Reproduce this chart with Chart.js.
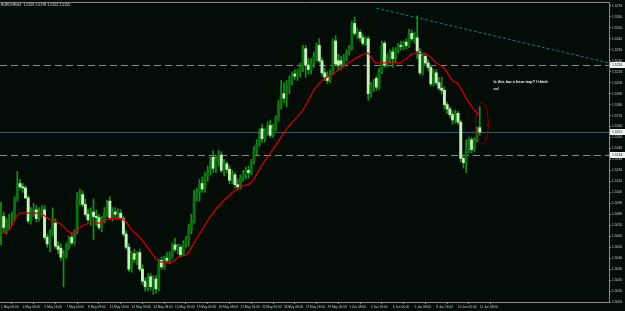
<!DOCTYPE html>
<html>
<head>
<meta charset="utf-8">
<script src="https://cdn.jsdelivr.net/npm/chart.js@4.4.0/dist/chart.umd.min.js"></script>
<style>
  html, body { margin: 0; padding: 0; background: #040c08; }
  #wrap { width: 625px; height: 311px; }
</style>
</head>
<body>
<div id="wrap"><canvas id="mt4Chart" width="625" height="311"></canvas></div>
<script>
const symbol = 'EURCHF,H4';

// H4 candles, 1 May 00:00 .. 11 Jun 08:00
const opens = [
  1.5062,1.5078,1.5068,1.5072,1.5074,1.5076,1.5094,1.5108,1.5105,1.5104,
  1.5095,1.5074,1.5082,1.5084,1.5076,1.5082,1.5084,1.5059,1.5053,1.5064,
  1.5072,1.5051,1.5049,1.5041,1.5044,1.5051,1.5059,1.5054,1.5064,1.5095,
  1.5098,1.5089,1.5080,1.5075,1.5082,1.5078,1.5077,1.5068,1.5074,1.5082,
  1.5092,1.5077,1.5082,1.5080,1.5081,1.5076,1.5062,1.5050,1.5030,1.5044,
  1.5039,1.5045,1.5030,1.5019,1.5014,1.5023,1.5014,1.5021,1.5012,1.5038,
  1.5032,1.5040,1.5038,1.5042,1.5052,1.5048,1.5050,1.5043,1.5054,1.5057,
  1.5066,1.5074,1.5096,1.5100,1.5108,1.5103,1.5115,1.5120,1.5132,1.5122,
  1.5130,1.5134,1.5120,1.5126,1.5121,1.5111,1.5116,1.5107,1.5105,1.5113,
  1.5116,1.5120,1.5118,1.5128,1.5138,1.5144,1.5158,1.5149,1.5156,1.5161,
  1.5152,1.5158,1.5168,1.5180,1.5190,1.5186,1.5198,1.5202,1.5208,1.5206,
  1.5209,1.5214,1.5231,1.5216,1.5212,1.5218,1.5224,1.5234,1.5220,1.5209,
  1.5205,1.5202,1.5209,1.5238,1.5220,1.5220,1.5217,1.5223,1.5228,1.5232,
  1.5254,1.5245,1.5246,1.5241,1.5236,1.5240,1.5190,1.5198,1.5204,1.5196,
  1.5210,1.5236,1.5216,1.5222,1.5228,1.5222,1.5230,1.5234,1.5233,1.5237,
  1.5234,1.5245,1.5240,1.5241,1.5228,1.5209,1.5224,1.5218,1.5214,1.5199,
  1.5209,1.5200,1.5195,1.5193,1.5180,1.5176,1.5171,1.5166,1.5172,1.5164,
  1.5131,1.5127,1.5140,1.5148,1.5139,1.5148,1.5159
];
const highs = [
  1.5091,1.5082,1.5076,1.5080,1.5082,1.5096,1.5119,1.5112,1.5108,1.5106,
  1.5097,1.5086,1.5090,1.5088,1.5086,1.5088,1.5088,1.5062,1.5066,1.5086,
  1.5076,1.5055,1.5053,1.5047,1.5054,1.5060,1.5062,1.5066,1.5100,1.5103,
  1.5101,1.5094,1.5085,1.5086,1.5094,1.5084,1.5080,1.5078,1.5086,1.5093,
  1.5096,1.5086,1.5086,1.5085,1.5084,1.5078,1.5065,1.5053,1.5046,1.5048,
  1.5046,1.5048,1.5034,1.5022,1.5026,1.5026,1.5024,1.5024,1.5039,1.5041,
  1.5042,1.5045,1.5046,1.5054,1.5058,1.5053,1.5052,1.5056,1.5060,1.5071,
  1.5080,1.5102,1.5104,1.5112,1.5114,1.5118,1.5124,1.5132,1.5138,1.5134,
  1.5138,1.5137,1.5130,1.5128,1.5124,1.5120,1.5118,1.5112,1.5116,1.5120,
  1.5123,1.5124,1.5130,1.5142,1.5148,1.5158,1.5162,1.5158,1.5164,1.5166,
  1.5162,1.5170,1.5184,1.5202,1.5200,1.5202,1.5206,1.5210,1.5212,1.5212,
  1.5218,1.5234,1.5234,1.5222,1.5222,1.5228,1.5236,1.5240,1.5223,1.5213,
  1.5210,1.5212,1.5240,1.5243,1.5226,1.5224,1.5226,1.5230,1.5234,1.5256,
  1.5260,1.5250,1.5248,1.5244,1.5242,1.5242,1.5200,1.5203,1.5206,1.5213,
  1.5238,1.5238,1.5226,1.5230,1.5232,1.5232,1.5236,1.5238,1.5238,1.5240,
  1.5249,1.5248,1.5246,1.5261,1.5231,1.5227,1.5227,1.5221,1.5216,1.5212,
  1.5212,1.5205,1.5205,1.5196,1.5182,1.5178,1.5174,1.5175,1.5174,1.5166,
  1.5134,1.5148,1.5150,1.5150,1.5150,1.5160,1.5178
];
const lows = [
  1.5052,1.5064,1.5062,1.5066,1.5070,1.5074,1.5092,1.5103,1.5100,1.5094,
  1.5072,1.5071,1.5078,1.5073,1.5074,1.5078,1.5057,1.5050,1.5046,1.5060,
  1.5049,1.5044,1.5038,1.5014,1.5040,1.5048,1.5052,1.5052,1.5062,1.5088,
  1.5087,1.5078,1.5073,1.5070,1.5057,1.5070,1.5066,1.5064,1.5072,1.5078,
  1.5075,1.5074,1.5077,1.5076,1.5075,1.5060,1.5048,1.5028,1.5027,1.5036,
  1.5034,1.5028,1.5016,1.5010,1.5010,1.5011,1.5007,1.5008,1.5010,1.5030,
  1.5030,1.5036,1.5035,1.5040,1.5046,1.5044,1.5041,1.5042,1.5050,1.5051,
  1.5062,1.5072,1.5092,1.5092,1.5100,1.5100,1.5110,1.5116,1.5118,1.5118,
  1.5124,1.5118,1.5115,1.5118,1.5108,1.5108,1.5104,1.5102,1.5103,1.5110,
  1.5112,1.5113,1.5116,1.5126,1.5134,1.5142,1.5146,1.5146,1.5152,1.5150,
  1.5150,1.5156,1.5165,1.5176,1.5182,1.5178,1.5190,1.5198,1.5203,1.5202,
  1.5205,1.5210,1.5205,1.5208,1.5208,1.5214,1.5220,1.5218,1.5206,1.5202,
  1.5199,1.5200,1.5207,1.5215,1.5212,1.5212,1.5214,1.5220,1.5225,1.5230,
  1.5243,1.5240,1.5238,1.5234,1.5234,1.5184,1.5187,1.5192,1.5193,1.5194,
  1.5208,1.5214,1.5214,1.5218,1.5214,1.5219,1.5227,1.5230,1.5230,1.5231,
  1.5232,1.5238,1.5236,1.5222,1.5207,1.5207,1.5216,1.5211,1.5197,1.5197,
  1.5198,1.5193,1.5190,1.5176,1.5172,1.5168,1.5162,1.5163,1.5162,1.5128,
  1.5122,1.5118,1.5136,1.5136,1.5137,1.5146,1.5152
];
const closes = [
  1.5080,1.5068,1.5072,1.5074,1.5076,1.5094,1.5108,1.5105,1.5104,1.5095,
  1.5074,1.5082,1.5084,1.5076,1.5082,1.5084,1.5059,1.5053,1.5064,1.5074,
  1.5051,1.5048,1.5041,1.5044,1.5051,1.5057,1.5054,1.5064,1.5095,1.5098,
  1.5089,1.5080,1.5075,1.5082,1.5078,1.5077,1.5068,1.5074,1.5082,1.5088,
  1.5077,1.5082,1.5080,1.5081,1.5077,1.5062,1.5050,1.5030,1.5044,1.5039,
  1.5042,1.5030,1.5019,1.5014,1.5023,1.5014,1.5020,1.5012,1.5034,1.5032,
  1.5040,1.5038,1.5042,1.5052,1.5048,1.5050,1.5043,1.5054,1.5057,1.5066,
  1.5074,1.5096,1.5100,1.5108,1.5103,1.5115,1.5120,1.5128,1.5122,1.5130,
  1.5133,1.5120,1.5126,1.5121,1.5111,1.5116,1.5107,1.5105,1.5113,1.5116,
  1.5120,1.5118,1.5128,1.5138,1.5144,1.5154,1.5149,1.5156,1.5160,1.5152,
  1.5158,1.5168,1.5180,1.5190,1.5186,1.5198,1.5202,1.5208,1.5206,1.5209,
  1.5214,1.5230,1.5216,1.5212,1.5218,1.5224,1.5233,1.5220,1.5209,1.5205,
  1.5202,1.5209,1.5238,1.5217,1.5216,1.5217,1.5223,1.5228,1.5232,1.5254,
  1.5245,1.5246,1.5241,1.5236,1.5240,1.5190,1.5198,1.5200,1.5196,1.5210,
  1.5234,1.5216,1.5222,1.5228,1.5222,1.5230,1.5234,1.5233,1.5236,1.5234,
  1.5244,1.5240,1.5241,1.5229,1.5209,1.5224,1.5218,1.5214,1.5199,1.5209,
  1.5200,1.5195,1.5193,1.5180,1.5176,1.5171,1.5166,1.5172,1.5164,1.5131,
  1.5127,1.5140,1.5147,1.5139,1.5148,1.5156,1.5155
];

// red moving average, read at some bars
const maBars = [0,3,7,11,14,18,22,25,27,29,33,36,40,44,46,48,51,55,58,62,66,68,71,73,
  77,82,88,92,96,101,106,111,115,118,122,127,131,135,136,138,141,146,148,151,153,
  157,160,163,166,168,170,172,174,175,176];
const maValues = [1.5062,1.5066,1.5081,1.5081,1.5081,1.5075,1.5071,1.5064,1.5063,1.5068,
  1.5072,1.5072,1.5076,1.5076,1.5073,1.5066,1.5059,1.5046,1.5037,1.5036,1.5042,1.5043,
  1.5054,1.5062,1.5078,1.5093,1.5105,1.5109,1.5125,1.5143,1.5161,1.5175,1.5193,1.5202,
  1.5208,1.5217,1.5223,1.5227,1.5223,1.5218,1.5218,1.5218,1.5220,1.5226,1.5227,1.5225,
  1.5218,1.5213,1.5202,1.5199,1.5190,1.5182,1.5175,1.5172,1.5170];

// dotted trendline
const trendBars = [138, 223.5];
const trendValues = [1.5268, 1.5218];

const dashedLevels = [1.5216, 1.5134];
const bidLevel = 1.5155;

const yTickLabels = ['1.5270','1.5260','1.5250','1.5240','1.5230','1.5220','1.5210',
  '1.5200','1.5190','1.5180','1.5170','1.5160','1.5150','1.5140','1.5130','1.5120',
  '1.5110','1.5100','1.5090','1.5080','1.5070','1.5060','1.5050','1.5040','1.5030',
  '1.5020','1.5010','1.5000'];
const xTickLabels = ['1 May 00:00','4 May 08:00','5 May 16:00','7 May 00:00','8 May 08:00',
  '11 May 16:00','13 May 00:00','14 May 08:00','15 May 16:00','19 May 00:00','20 May 08:00',
  '21 May 16:00','25 May 00:00','26 May 08:00','27 May 16:00','29 May 00:00','1 Jun 08:00',
  '2 Jun 16:00','4 Jun 00:00','5 Jun 08:00','8 Jun 16:00','10 Jun 00:00','11 Jun 08:00'];
const xTickStep = 8;

const noteLines = ['Is this bar a bear trap? I think', 'so!'];
const notePos = { bar: 181, price: 1.5201 };
const ringPos = { bar: 176.8, price: 1.5163, rBars: 2.3, rPrice: 0.0019 };

const BG = '#040c08';
const FONT = 'Liberation Sans';
Chart.defaults.font.family = FONT;

const bars = closes.map((c, i) => i);
const isBear = i => closes[i] < opens[i];

const overlay = {
  id: 'overlay',
  beforeDraw(chart) {
    const ctx = chart.ctx;
    ctx.save();
    ctx.fillStyle = BG;
    ctx.fillRect(0, 0, chart.width, chart.height);
    ctx.restore();
  },
  beforeDatasetsDraw(chart) {
    const { ctx, chartArea: a, scales: { y } } = chart;
    ctx.save();
    ctx.lineWidth = 1;
    ctx.strokeStyle = '#8c8c8c';
    ctx.setLineDash([7, 4]);
    dashedLevels.forEach(v => {
      const py = Math.round(y.getPixelForValue(v)) + 0.5;
      ctx.beginPath(); ctx.moveTo(a.left, py); ctx.lineTo(a.right, py); ctx.stroke();
    });
    ctx.setLineDash([]);
    ctx.strokeStyle = '#45586a';
    const by = Math.round(y.getPixelForValue(bidLevel)) + 0.5;
    ctx.beginPath(); ctx.moveTo(a.left, by); ctx.lineTo(a.right, by); ctx.stroke();
    ctx.restore();
  },
  afterDraw(chart) {
    const { ctx, chartArea: a, scales: { x, y } } = chart;
    ctx.save();
    // frame top line
    ctx.strokeStyle = '#8a8a8a';
    ctx.lineWidth = 1;
    ctx.beginPath(); ctx.moveTo(0, a.top - 0.5); ctx.lineTo(a.right, a.top - 0.5); ctx.stroke();

    // price boxes on the right scale
    ctx.font = '3.4px ' + FONT;
    ctx.textBaseline = 'middle';
    ctx.textAlign = 'left';
    [...dashedLevels, bidLevel].forEach(v => {
      const py = Math.round(y.getPixelForValue(v));
      ctx.fillStyle = '#f2f2f2';
      ctx.fillRect(a.right + 1, py - 3, 15, 6);
      ctx.fillStyle = '#111';
      ctx.fillText(v.toFixed(4), a.right + 3, py + 0.3);
    });

    // title
    const n = closes.length - 1;
    ctx.fillStyle = '#e8e8e8';
    ctx.font = '3.6px ' + FONT;
    ctx.fillText(symbol + '  ' + [opens[n], highs[n], lows[n], closes[n]].map(v => v.toFixed(4)).join(' '), 1, a.top + 2.5);

    // note
    ctx.font = 'bold 3.9px ' + FONT;
    ctx.fillStyle = '#f0f0f0';
    const nx = x.getPixelForValue(notePos.bar);
    const ny = y.getPixelForValue(notePos.price);
    noteLines.forEach((t, k) => ctx.fillText(t, nx, ny + k * 7));

    // red ellipse round the last bar
    const cx = x.getPixelForValue(ringPos.bar);
    const cy = y.getPixelForValue(ringPos.price);
    const rx = x.getPixelForValue(ringPos.bar + ringPos.rBars) - cx;
    const ry = cy - y.getPixelForValue(ringPos.price + ringPos.rPrice);
    ctx.strokeStyle = '#d00000';
    ctx.lineWidth = 1;
    ctx.setLineDash([1.5, 1]);
    ctx.beginPath(); ctx.ellipse(cx, cy, rx, ry, 0, 0, Math.PI * 2); ctx.stroke();
    ctx.restore();
  }
};

new Chart(document.getElementById('mt4Chart'), {
  type: 'bar',
  data: {
    datasets: [
      {
        type: 'line',
        label: 'MA',
        data: maBars.map((b, k) => ({ x: b, y: maValues[k] })),
        borderColor: '#d00000',
        borderWidth: 1.3,
        pointRadius: 0,
        cubicInterpolationMode: 'monotone',
        order: 0
      },
      {
        type: 'line',
        label: 'Trend',
        data: trendBars.map((b, k) => ({ x: b, y: trendValues[k] })),
        borderColor: '#0f7f88',
        borderWidth: 1,
        borderDash: [3, 2],
        pointRadius: 0,
        order: 1
      },
      {
        label: 'Body',
        data: bars.map(i => ({ x: i, y: [opens[i], closes[i]] })),
        backgroundColor: c => isBear(c.dataIndex) ? '#c6f0ba' : '#0c6e10',
        barThickness: 2.3,
        grouped: false,
        order: 2
      },
      {
        label: 'Wick',
        data: bars.map(i => ({ x: i, y: [lows[i], highs[i]] })),
        backgroundColor: '#159315',
        barThickness: 1,
        grouped: false,
        order: 3
      }
    ]
  },
  options: {
    responsive: false,
    animation: false,
    layout: { padding: { top: 2, left: 0, right: 0, bottom: 0 } },
    plugins: { legend: { display: false }, tooltip: { enabled: false } },
    scales: {
      x: {
        type: 'linear',
        min: -0.37,
        max: 223.5,
        offset: false,
        afterFit: s => { s.height = 9; },
        afterBuildTicks: s => { s.ticks = xTickLabels.map((t, k) => ({ value: k * xTickStep })); },
        ticks: {
          callback: (v, k) => xTickLabels[k],
          color: '#c8c8c8',
          font: { size: 3.2 },
          align: 'start',
          padding: 1,
          maxRotation: 0,
          autoSkip: false
        },
        grid: { drawOnChartArea: false, tickLength: 2, color: '#8a8a8a' },
        border: { color: '#8a8a8a' }
      },
      y: {
        type: 'linear',
        position: 'right',
        min: 1.5000,
        max: 1.52727,
        afterFit: s => { s.width = 16; },
        afterBuildTicks: s => { s.ticks = yTickLabels.map(t => ({ value: parseFloat(t) })); },
        ticks: {
          callback: v => v.toFixed(4),
          color: '#cfcfcf',
          font: { size: 3.3 },
          padding: 1
        },
        grid: { drawOnChartArea: false, tickLength: 2, color: '#8a8a8a' },
        border: { color: '#8a8a8a' }
      }
    }
  },
  plugins: [overlay]
});
</script>
</body>
</html>
